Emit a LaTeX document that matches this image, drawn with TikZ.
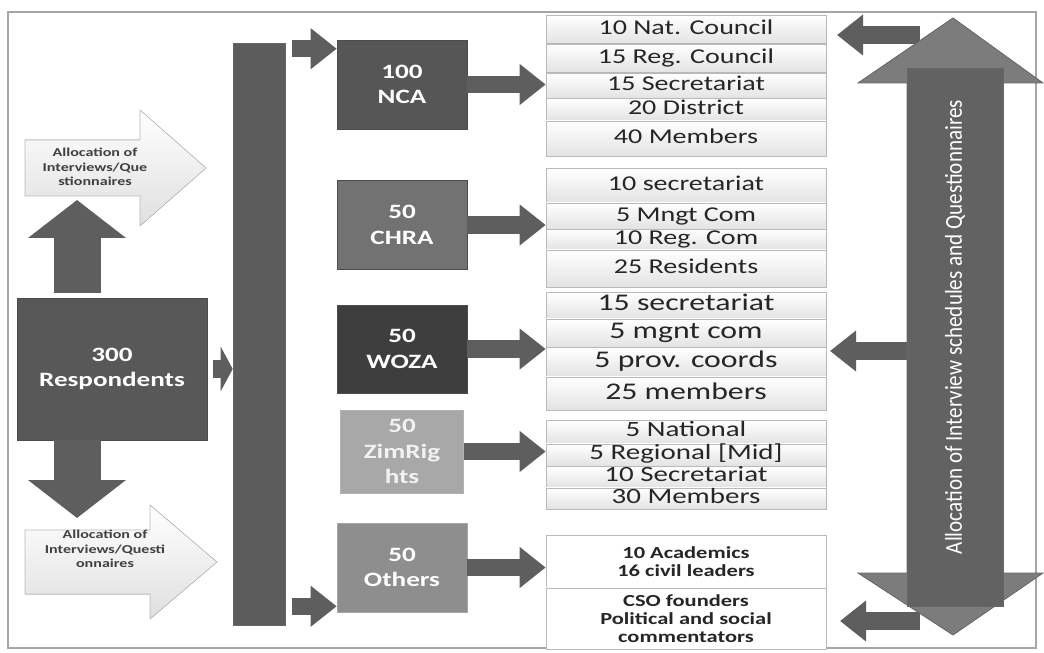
\documentclass[tikz,border=0pt]{standalone}
\usepackage{fontspec}
\setmainfont{Carlito}
\newfontfamily\wide[FakeStretch=1.33]{Carlito}
\usetikzlibrary{arrows.meta, positioning, calc}
\definecolor{arrowgray}{HTML}{5E5E5E}
\definecolor{respgray}{HTML}{585858}
\definecolor{bargray}{HTML}{5C5C5C}
\definecolor{ncagray}{HTML}{565656}
\definecolor{chragray}{HTML}{727272}
\definecolor{wozagray}{HTML}{3E3E3E}
\definecolor{zimgray}{HTML}{A8A8A8}
\definecolor{othgray}{HTML}{8E8E8E}
\definecolor{dblgray}{HTML}{7C7C7C}
\definecolor{lblgray}{HTML}{626262}
\definecolor{txtdark}{HTML}{262626}

\begin{document}
\begin{tikzpicture}[
  flow/.style={draw=arrowgray, line width=0.43cm, -{Triangle[length=0.65cm, width=0.98cm]}},
  bigflow/.style={draw=arrowgray, line width=1.175cm, -{Triangle[length=0.95cm, width=2.4cm]}},
  group/.style={minimum width=3.25cm, minimum height=2.225cm, draw=black!70, text=white,
    align=center, font=\wide\bfseries\fontsize{14.5}{18}\selectfont},
  cell/.style={draw=gray!55, top color=white, bottom color=gray!22, minimum width=7cm,
    inner sep=0pt, text=txtdark},
  row/.style={cell, font=\wide\fontsize{15}{18}\selectfont, text height=0.36cm, text depth=0.1cm},
  bigrow/.style={cell, font=\wide\fontsize{17}{20}\selectfont, text height=0.38cm, text depth=0.1cm},
  zimrow/.style={cell, font=\wide\fontsize{15.5}{18}\selectfont, text height=0.34cm, text depth=0.09cm},
  orow/.style={cell, top color=white, bottom color=white, align=center,
    font=\wide\bfseries\fontsize{12}{12.8}\selectfont},
  alloctext/.style={align=center, text=black!75, font=\wide\bfseries\fontsize{8.6}{10.3}\selectfont}
]

% Background and frame
\fill[white] (0,0) rectangle (26.1,16.3);
\draw[gray!70, line width=0.8pt] (0.2,0.1) rectangle (25.9,16.0);

% Allocation arrows on the left
\filldraw[draw=gray!55, top color=white, bottom color=gray!25]
  (0.625,12.8) -- (3.5,12.8) -- (3.5,13.55) -- (5.15,12.1) -- (3.5,10.65) -- (3.5,11.4) -- (0.625,11.4) -- cycle;
\filldraw[draw=gray!55, top color=white, bottom color=gray!25]
  (0.625,3.05) -- (3.75,3.05) -- (3.75,3.675) -- (5.425,2.25) -- (3.75,0.825) -- (3.75,1.45) -- (0.625,1.45) -- cycle;
\node[alloctext] (alloctop) at (2.375,12.125) {Allocation of\\Interviews/Que\\stionnaires};
\node[alloctext] (allocbot) at (2.625,2.575) {Allocation of\\Interviews/Questi\\onnaires};

% Respondents
\node[group, fill=respgray, minimum width=4.75cm, minimum height=3.55cm] (resp) at (2.8,7.075) {300\\Respondents};

\coordinate (uptip) at (1.925,11.3);
\coordinate (downtip) at (1.925,3.35);
\draw[bigflow, shorten <=0.12cm] (resp.north -| uptip) -- (uptip);
\draw[bigflow] (resp.south -| downtip) -- (downtip);

% Distribution bar
\node[fill=bargray, draw=black!60, minimum width=1.3cm, minimum height=14.55cm] (bar) at (6.475,7.95) {};
\draw[flow, -{Triangle[length=0.3cm, width=1.1cm]}, shorten <=0.15cm] (resp.east) -- (resp.east -| bar.west);

% Organisations
\node[group, fill=ncagray] (nca) at (10.05,14.1875) {100\\NCA};
\node[group, fill=chragray] (chra) at (10.05,10.675) {50\\CHRA};
\node[group, fill=wozagray, minimum height=2.2cm] (woza) at (10.05,7.575) {50\\WOZA};
\node[group, fill=zimgray, draw=gray!60, text=gray!10, minimum width=3.075cm, minimum height=2.075cm] (zim) at (10.05,5.0125) {50\\ZimRig\\hts};
\node[group, fill=othgray, draw=gray!70] (oth) at (10.05,2.1125) {50\\Others};

\coordinate (ncain) at ($(nca.north west)+(0,-0.225)$);
\coordinate (othin) at ($(oth.south west)+(0,0.15)$);
\draw[flow, shorten <=0.175cm] (bar.east |- ncain) -- (ncain);
\draw[flow, shorten <=0.175cm] (bar.east |- othin) -- (othin);

% NCA breakdown
\node[row, minimum height=0.71cm, anchor=north] (nca1) at (17.15,15.925) {10 Nat. Council};
\node[row, minimum height=0.71cm, below=0pt of nca1] (nca2) {15 Reg. Council};
\node[row, minimum height=0.625cm, below=0pt of nca2] (nca3) {15 Secretariat};
\node[row, minimum height=0.54cm, below=0pt of nca3] (nca4) {20 District};
\node[row, minimum height=0.875cm, below=0pt of nca4] (nca5) {40 Members};

% CHRA breakdown
\node[row, minimum height=0.85cm, anchor=north] (chra1) at (17.15,12.1) {10 secretariat};
\node[row, minimum height=0.65cm, below=0pt of chra1] (chra2) {5 Mngt Com};
\node[row, minimum height=0.5cm, below=0pt of chra2] (chra3) {10 Reg. Com};
\node[row, minimum height=0.925cm, below=0pt of chra3] (chra4) {25 Residents};

% WOZA breakdown
\node[bigrow, minimum height=0.65cm, anchor=north] (woza1) at (17.15,9.0) {15 secretariat};
\node[bigrow, minimum height=0.7cm, below=0pt of woza1] (woza2) {5 mgnt com};
\node[bigrow, minimum height=0.725cm, below=0pt of woza2] (woza3) {5 prov. coords};
\node[bigrow, minimum height=0.825cm, below=0pt of woza3] (woza4) {25 members};

% ZimRights breakdown
\node[zimrow, minimum height=0.575cm, anchor=north] (zim1) at (17.15,5.8) {5 National};
\node[zimrow, minimum height=0.55cm, below=0pt of zim1] (zim2) {5 Regional [Mid]};
\node[zimrow, minimum height=0.525cm, below=0pt of zim2] (zim3) {10 Secretariat};
\node[zimrow, minimum height=0.525cm, below=0pt of zim3] (zim4) {30 Members};

% Others breakdown
\node[orow, minimum height=1.3cm, anchor=north] (oth1) at (17.15,2.925) {10 Academics\\16 civil leaders};
\node[orow, minimum height=1.525cm, below=0pt of oth1] (oth2) {CSO founders\\Political and social\\commentators};

% Organisation to breakdown arrows
\draw[flow] (nca.east) -- (nca.east -| nca1.west);
\draw[flow] (chra.east) -- (chra.east -| chra1.west);
\draw[flow] (woza.east) -- (woza.east -| woza1.west);
\draw[flow] (zim.east) -- (zim.east -| zim1.west);
\draw[flow] (oth.east) -- (oth.east -| oth1.west);

% Feedback arrows from the right
\coordinate (d1) at (23.0,15.425);
\coordinate (d2) at (23.0,7.525);
\coordinate (d3) at (23.0,0.775);
\coordinate (t1) at (20.925,15.425);
\coordinate (t2) at (20.75,7.525);
\coordinate (t3) at (21.0,0.775);
\draw[flow] (d1) -- (t1);
\draw[flow] (d2) -- (t2);
\draw[flow] (d3) -- (t3);

% Double arrow
\filldraw[fill=dblgray, draw=black!60, line width=0.6pt]
  (23.825,15.85) -- (26.075,14.225) -- (25.075,14.225) -- (25.075,1.975) -- (26.075,1.975)
  -- (23.825,0.425) -- (21.45,1.975) -- (22.675,1.975) -- (22.675,14.225) -- (21.45,14.225) -- cycle;
\node[fill=lblgray, draw=black!60, minimum width=13.45cm, minimum height=2.4cm, rotate=90,
  text=white] (alloclbl) at (23.875,7.875) {};
\node[rotate=90, text=white, font=\fontsize{15}{18}\selectfont] (alloctxt) at (23.875,8.125)
  {\scalebox{1}[1.15]{Allocation of Interview schedules and Questionnaires}};

\end{tikzpicture}
\end{document}
